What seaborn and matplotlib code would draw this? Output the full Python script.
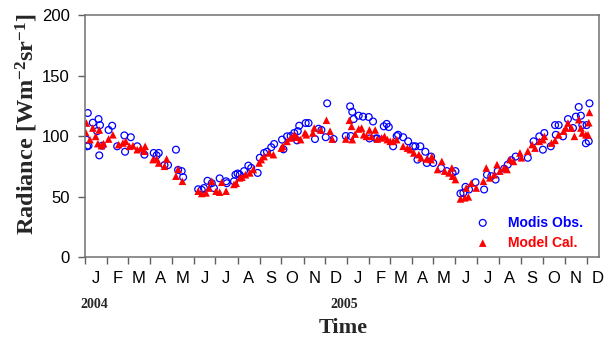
import matplotlib
matplotlib.use('Agg')
import matplotlib.pyplot as plt
import matplotlib.dates as mdates
from matplotlib.ticker import FuncFormatter, NullFormatter, MultipleLocator
import seaborn as sns
import pandas as pd

# dias desde 2004-01-01 y radiancia
modis_day = [2, 4, 3, 5, 11, 17, 19, 21, 20, 24, 33, 38, 45, 55, 56, 64, 73, 83,
             96, 103, 100, 111, 116, 127, 130, 135, 137, 158, 163, 166, 171, 177,
             180, 188, 197, 198, 208, 210, 213, 216, 222, 228, 232, 241, 244, 250,
             254, 260, 264, 275, 277, 282, 287, 292, 296, 297, 299, 308, 312, 321,
             326, 330, 336, 338, 347,
             364, 370, 373, 375, 371, 382, 388, 396, 402, 406, 397, 408, 417, 421,
             424, 430, 435, 437, 444, 451, 458, 461, 464, 468, 475, 477, 483, 486,
             497, 505, 513, 517, 524, 528, 531, 536, 545, 557, 561, 567, 573, 576,
             585, 590, 595, 601, 618, 626, 634, 639, 641, 650, 656, 661, 657, 667,
             674, 681, 685, 689, 692, 694, 699, 700, 703, 704]
modis_val = [97, 119, 91.5, 92, 111, 104, 114, 109, 84, 92, 105, 108.5, 91.5, 100.5,
             87, 99, 91.5, 84.6, 86, 86, 84, 76, 76, 88.7, 72, 71, 66, 56, 55.5, 57,
             63, 61, 57, 65, 62.6, 61, 62.6, 68, 69, 68, 71, 75.5, 73.6, 69.5, 82,
             86, 87, 90.7, 93.4, 97, 89, 99.7, 100, 102.5, 96.4, 104, 108.5, 110.7,
             110.7, 97.5, 106, 105, 99, 127, 97.5,
             100, 124.5, 120, 114, 100, 116.8, 116, 115.7, 112, 98, 98, 98, 108,
             110, 107.4, 91.5, 100, 101, 99, 95.6, 91.5, 91.5, 80.5, 91.5, 87,
             77.7, 83, 77.7, 73.6, 71, 69.5, 71, 52.5, 53, 58, 55.8, 61.8, 55.8,
             68, 66.8, 64, 71, 73, 76.4, 80, 83, 82, 95.6, 99.7, 88.7, 102.5, 91.5,
             109, 109, 101, 99.7, 114, 106.6, 116, 124, 116.8, 109, 94, 109, 95.6,
             127]

model_day = [1, 2, 7, 11, 15, 20, 18, 23, 26, 33, 39, 47, 53, 57, 62, 67, 73, 78,
             84, 83, 95, 100, 103, 111, 114, 127, 130, 136, 158, 163, 169, 173,
             177, 183, 188, 191, 197, 208, 211, 216, 219, 224, 230, 235, 243, 246,
             250, 257, 263, 274, 276, 282, 287, 292, 296, 301, 307, 309, 318, 320,
             329, 337, 342, 345,
             364, 369, 372, 373, 377, 382, 386, 389, 393, 397, 400, 405, 408, 414,
             418, 422, 426, 430, 435, 444, 450, 454, 459, 466, 469, 477, 483, 484,
             492, 498, 502, 508, 512, 513, 517, 524, 530, 532, 535, 539, 546, 556,
             560, 565, 571, 575, 579, 585, 589, 593, 598, 607, 609, 618, 624, 628,
             634, 639, 641, 651, 656, 661, 668, 671, 674, 679, 683, 689, 692, 694,
             699, 703, 704, 702]
model_val = [103, 110.7, 97, 106.6, 99.7, 105, 93.7, 92, 93.7, 97.5, 101, 92.9,
             94.2, 95.6, 91.5, 92, 88.7, 90, 91.5, 87.4, 80.5, 81, 77.7, 75, 81,
             66.8, 72.5, 62.6, 54.4, 52.5, 53, 57, 62.6, 54.4, 53.6, 61.8, 54.4,
             60, 61, 65.4, 66, 68, 69.5, 72.3, 77.7, 80.5, 83, 86, 84.6, 90, 91.5,
             95.6, 98.4, 101, 99, 97, 102.5, 101, 102.5, 106.6, 105, 113, 104, 97.5,
             97.5, 113, 108, 97, 101.6, 105.8, 106.6, 101, 99.7, 105, 99.7, 105,
             97.5, 98.4, 99.7, 97, 95.6, 95.6, 97, 91.5, 90, 88.7, 86, 84.6, 82,
             81, 80.5, 83, 72.3, 79, 71, 69.5, 73.6, 66.8, 64, 48, 48.9, 57, 49.7,
             61, 57, 62.6, 73.6, 65.4, 68, 76.4, 71, 73.6, 72.3, 80.5, 79, 86, 82,
             87.4, 92.9, 90, 95.6, 97, 99.7, 94.2, 96.4, 101, 104, 106.6, 110.7,
             106.6, 99.7, 113.5, 106.6, 102.5, 101, 111, 119.5, 101]

inicio = pd.Timestamp('2004-01-01')
modis_df = pd.DataFrame({'fecha': inicio + pd.to_timedelta(modis_day, unit='D'),
                         'rad': modis_val})
model_df = pd.DataFrame({'fecha': inicio + pd.to_timedelta(model_day, unit='D'),
                         'rad': model_val})

sns.set_style('ticks')
plt.rcParams['font.family'] = ['Liberation Sans', 'DejaVu Sans']
plt.rcParams['mathtext.fontset'] = 'custom'
plt.rcParams['mathtext.rm'] = 'Liberation Serif:bold'
plt.rcParams['mathtext.bf'] = 'Liberation Serif:bold'
plt.rcParams['mathtext.it'] = 'Liberation Serif:bold'
plt.rcParams['mathtext.default'] = 'rm'

fig = plt.figure(figsize=(6.11, 3.38), dpi=100)
ax = fig.add_axes([0.139, 0.2396, 0.841, 0.716])

sns.scatterplot(data=modis_df, x='fecha', y='rad', marker='o', s=24,
                facecolor='none', edgecolor='#0000ff', linewidth=0.9,
                label='Modis Obs.', ax=ax)
sns.scatterplot(data=model_df, x='fecha', y='rad', marker='^', s=30,
                color='#ff0000', edgecolor='none', linewidth=0,
                label='Model Cal.', ax=ax)

ax.set_xlim(inicio, pd.Timestamp('2005-12-18'))
ax.set_ylim(0, 200)
ax.yaxis.set_major_locator(MultipleLocator(50))

# meses: marcas al inicio de cada mes, letras a mitad de mes
ax.xaxis.set_major_locator(mdates.MonthLocator())
ax.xaxis.set_major_formatter(NullFormatter())
ax.xaxis.set_minor_locator(mdates.MonthLocator(bymonthday=16))
ax.xaxis.set_minor_formatter(FuncFormatter(lambda v, pos: mdates.num2date(v).strftime('%b')[0]))

ax.tick_params(axis='x', which='major', direction='out', length=5, width=1,
               color='#606060', top=False)
ax.tick_params(axis='x', which='minor', length=0, labelsize=12, pad=10, top=False,
               labelcolor='black')
ax.tick_params(axis='y', direction='out', length=5, width=1, color='#606060',
               labelsize=12, pad=6, right=False, labelcolor='black')

for s in ax.spines.values():
    s.set_color('#707070')
    s.set_linewidth(1.1)

ax.set_xlabel('')
ax.set_ylabel('')

fig.text(27 / 611, 1 - 124 / 338, r'Radiance [Wm$^{-2}$sr$^{-1}$]',
         rotation=90, ha='center', va='center', fontsize=17.5, fontweight='bold',
         family='Liberation Serif')
fig.text(343 / 611, 1 - 333 / 338, 'Time', ha='center', va='baseline',
         fontsize=16, fontweight='bold', family='Liberation Serif')
fig.text(94 / 611, 1 - 308 / 338, '2004', ha='center', va='baseline',
         fontsize=10, fontweight='bold', family='Liberation Serif')
fig.text(344 / 611, 1 - 308 / 338, '2005', ha='center', va='baseline',
         fontsize=10, fontweight='bold', family='Liberation Serif')

leg = ax.legend(loc='lower right', bbox_to_anchor=(0.969, 0.03), frameon=False,
                borderpad=0, borderaxespad=0, handlelength=2, handletextpad=0.8,
                labelspacing=0.45, prop={'size': 10, 'weight': 'bold'})
for txt, col in zip(leg.get_texts(), ['#0000ff', '#ff0000']):
    txt.set_color(col)

plt.savefig('out.png', dpi=100)
